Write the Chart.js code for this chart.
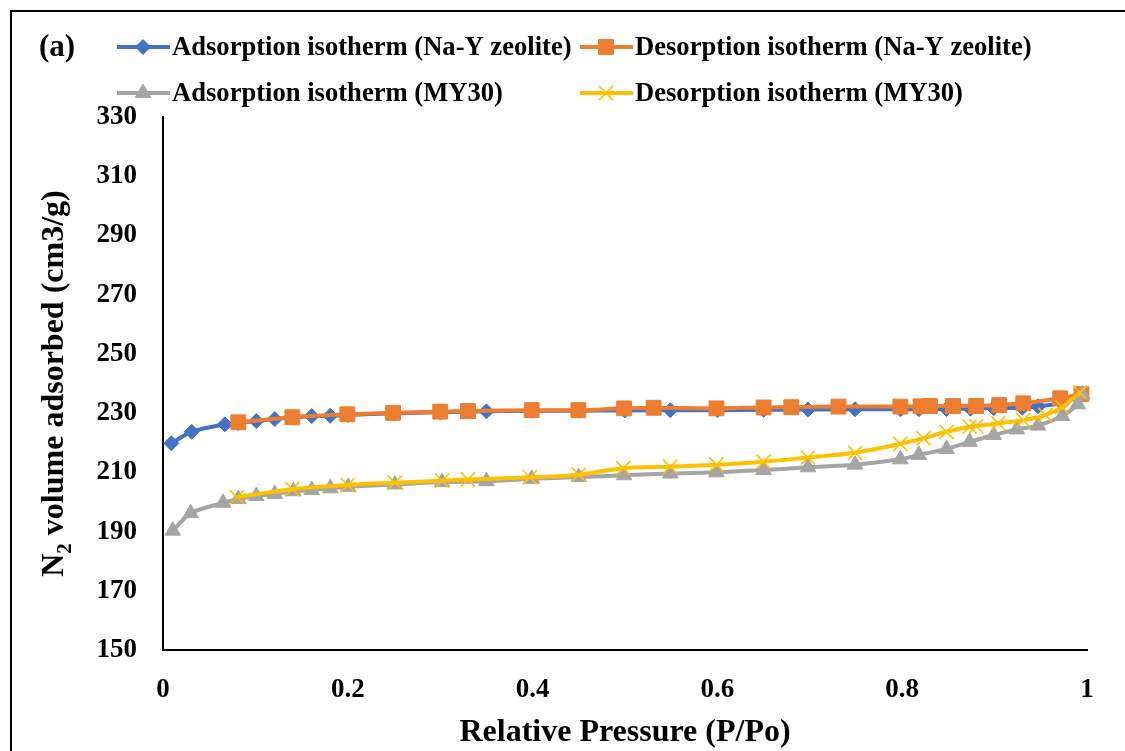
<!DOCTYPE html>
<html>
<head>
<meta charset="utf-8">
<title>N2 isotherms</title>
<script src="https://cdn.jsdelivr.net/npm/chart.js@4.4.0/dist/chart.umd.min.js"></script>
<style>
  html, body { margin: 0; padding: 0; background: #fff; }
  #wrap { position: relative; width: 1125px; height: 751px; overflow: hidden; }
  #frame { position: absolute; left: 10px; top: 10px; width: 1140px; height: 770px;
           border: 2px solid #000; box-sizing: border-box; pointer-events: none; }
</style>
</head>
<body>
<div id="wrap">
  <canvas id="isotherm" width="1125" height="751"></canvas>
  <div id="frame"></div>
</div>
<script>
// ---- data: relative pressure (P/Po) and volume adsorbed (cm3/g) ----
const nayAdsP = [0.009, 0.031, 0.067, 0.081, 0.101, 0.121, 0.141, 0.161, 0.181, 0.200, 0.250, 0.300, 0.350, 0.400, 0.450, 0.500, 0.549, 0.600, 0.650, 0.698, 0.749, 0.798, 0.818, 0.848, 0.874, 0.899, 0.930, 0.947, 0.973, 0.992];
const nayAdsV = [219.8, 223.7, 226.2, 226.7, 227.3, 228.0, 228.5, 229.0, 229.1, 229.4, 229.9, 230.3, 230.6, 230.8, 230.8, 230.9, 231.0, 231.0, 231.1, 231.2, 231.3, 231.3, 231.3, 231.4, 231.5, 231.7, 231.8, 232.3, 233.4, 235.5];

const nayDesP = [0.0815, 0.140, 0.1995, 0.249, 0.300, 0.330, 0.399, 0.4495, 0.499, 0.531, 0.599, 0.650, 0.680, 0.731, 0.798, 0.820, 0.830, 0.855, 0.880, 0.905, 0.931, 0.971, 0.994];
const nayDesV = [226.9, 228.6, 229.6, 230.1, 230.5, 230.7, 231.0, 231.0, 231.6, 231.8, 231.6, 231.9, 232.0, 232.2, 232.2, 232.3, 232.4, 232.4, 232.4, 232.7, 233.3, 235.0, 236.4];

const my30AdsP = [0.0105, 0.030, 0.065, 0.0815, 0.101, 0.121, 0.141, 0.161, 0.181, 0.2005, 0.251, 0.302, 0.350, 0.399, 0.450, 0.499, 0.549, 0.599, 0.650, 0.698, 0.749, 0.798, 0.818, 0.848, 0.873, 0.899, 0.924, 0.947, 0.973, 0.990, 0.995];
const my30AdsV = [190.3, 196.2, 199.7, 201.0, 202.0, 202.7, 203.6, 204.0, 204.6, 205.1, 205.9, 206.7, 207.0, 207.8, 208.4, 209.0, 209.6, 210.0, 210.8, 211.7, 212.6, 214.4, 215.9, 217.9, 220.3, 222.6, 224.5, 225.8, 229.0, 233.0, 236.3];

const my30DesP = [0.080, 0.140, 0.200, 0.251, 0.302, 0.330, 0.397, 0.450, 0.498, 0.549, 0.599, 0.650, 0.698, 0.749, 0.798, 0.823, 0.848, 0.873, 0.880, 0.904, 0.931, 0.955, 0.973, 0.9925];
const my30DesV = [201.6, 204.3, 205.7, 206.5, 207.2, 207.6, 208.3, 209.2, 211.4, 211.9, 212.6, 213.6, 215.0, 216.6, 219.6, 221.5, 223.7, 225.4, 225.6, 226.6, 227.6, 229.4, 232.0, 237.0];

const seriesNames = [
  'Adsorption isotherm (Na-Y zeolite)',
  'Desorption isotherm (Na-Y zeolite)',
  'Adsorption isotherm (MY30)',
  'Desorption isotherm (MY30)'
];
const xTicks = [0, 0.2, 0.4, 0.6, 0.8, 1];
const yTicks = [150, 170, 190, 210, 230, 250, 270, 290, 310, 330];

const SERIF = '"Liberation Serif", "Times New Roman", serif';

function toPoints(xs, ys) {
  return xs.map((x, i) => ({ x: x, y: ys[i] }));
}

function series(label, xs, ys, color, style, radius, order) {
  return {
    label: label,
    data: toPoints(xs, ys),
    borderColor: color,
    backgroundColor: color,
    borderWidth: 4,
    tension: 0.3,
    pointStyle: style,
    pointRadius: radius,
    pointHoverRadius: radius,
    pointBorderColor: color,
    pointBackgroundColor: color,
    pointBorderWidth: style === 'crossRot' ? 1.6 : 1,
    clip: false,
    order: order
  };
}

const datasets = [
  series(seriesNames[0], nayAdsP, nayAdsV, '#4472C4', 'rectRot', 7.5, 4),
  series(seriesNames[1], nayDesP, nayDesV, '#ED7D31', 'rect', 10.5, 3),
  series(seriesNames[2], my30AdsP, my30AdsV, '#A5A5A5', 'triangle', 9, 2),
  series(seriesNames[3], my30DesP, my30DesV, '#FFC000', 'crossRot', 10, 1)
];

// legend in two columns plus the "(a)" panel tag, and the axis titles
const decorations = {
  id: 'decorations',
  afterDraw(chart) {
    const ctx = chart.ctx;
    const area = chart.chartArea;
    ctx.save();
    ctx.fillStyle = '#000';
    ctx.textBaseline = 'middle';

    // panel tag
    ctx.font = 'bold 31px ' + SERIF;
    ctx.textAlign = 'center';
    ctx.fillText('(a)', 57, 48);

    // legend entries
    const cols = [117, 580];
    const rows = [47, 93];
    ctx.font = 'bold 26.6px ' + SERIF;
    ctx.textAlign = 'left';
    chart.data.datasets.forEach((ds, i) => {
      const x = cols[i % 2];
      const y = rows[Math.floor(i / 2)];
      ctx.strokeStyle = ds.borderColor;
      ctx.lineWidth = ds.borderWidth;
      ctx.beginPath();
      ctx.moveTo(x, y);
      ctx.lineTo(x + 53, y);
      ctx.stroke();
      ctx.fillStyle = ds.pointBackgroundColor;
      ctx.strokeStyle = ds.pointBorderColor;
      ctx.lineWidth = ds.pointBorderWidth;
      Chart.helpers.drawPoint(ctx, {
        pointStyle: ds.pointStyle,
        radius: ds.pointRadius,
        rotation: 0,
        borderWidth: ds.pointBorderWidth
      }, x + 26, y);
      ctx.fillStyle = '#000';
      ctx.fillText(ds.label, x + 55, y + 1);
    });

    // x axis title
    ctx.font = 'bold 32px ' + SERIF;
    ctx.textAlign = 'center';
    ctx.fillText('Relative Pressure (P/Po)', (area.left + area.right) / 2, 733);

    // y axis title with subscript
    const big = 'bold 32px ' + SERIF;
    const small = 'bold 21px ' + SERIF;
    const rest = ' volume adsorbed (cm3/g)';
    ctx.font = big;
    const wN = ctx.measureText('N').width;
    const wRest = ctx.measureText(rest).width;
    ctx.font = small;
    const w2 = ctx.measureText('2').width;
    const total = wN + w2 + wRest;
    ctx.translate(55, (area.top + area.bottom) / 2);
    ctx.rotate(-Math.PI / 2);
    ctx.textAlign = 'left';
    let cx = -total / 2;
    ctx.font = big;
    ctx.fillText('N', cx, 0);
    cx += wN;
    ctx.font = small;
    ctx.fillText('2', cx, 11);
    cx += w2;
    ctx.font = big;
    ctx.fillText(rest, cx, 0);
    ctx.restore();
  }
};

new Chart(document.getElementById('isotherm'), {
  type: 'line',
  data: { datasets: datasets },
  plugins: [decorations],
  options: {
    responsive: false,
    animation: false,
    events: [],
    layout: { padding: { top: 117, right: 38, bottom: 0, left: 0 } },
    plugins: { legend: { display: false }, tooltip: { enabled: false } },
    scales: {
      x: {
        type: 'linear',
        min: 0,
        max: 1,
        afterBuildTicks: s => { s.ticks = xTicks.map(v => ({ value: v })); },
        afterFit: s => { s.height = 101; },
        grid: { display: false, drawTicks: false },
        border: { display: true, color: '#000', width: 2 },
        ticks: {
          color: '#000',
          padding: 24,
          maxRotation: 0,
          font: { family: SERIF, size: 27, weight: 'bold' },
          callback: v => String(Number(v.toFixed(1)))
        }
      },
      y: {
        type: 'linear',
        min: 150,
        max: 330,
        afterBuildTicks: s => { s.ticks = yTicks.map(v => ({ value: v })); },
        afterFit: s => { s.width = 163; },
        grid: { display: false, drawTicks: false },
        border: { display: true, color: '#000', width: 2 },
        ticks: {
          color: '#000',
          padding: 26,
          font: { family: SERIF, size: 27, weight: 'bold' }
        }
      }
    }
  }
});
</script>
</body>
</html>
